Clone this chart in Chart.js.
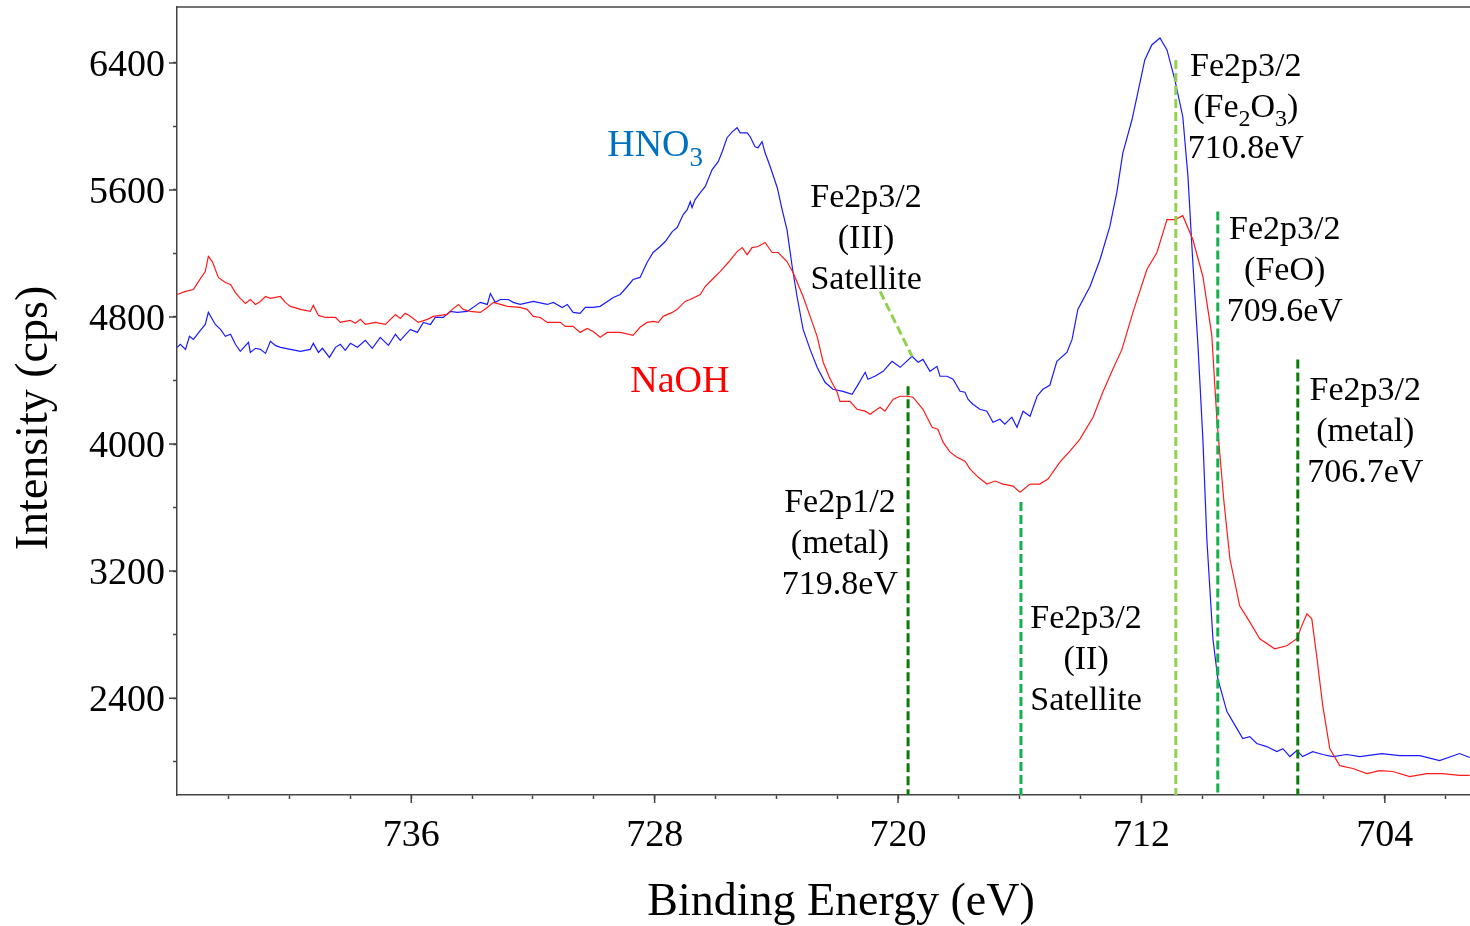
<!DOCTYPE html>
<html lang="en">
<head>
<meta charset="UTF-8">
<title>Fe2p XPS spectra</title>
<script src="https://cdn.jsdelivr.net/npm/chart.js"></script>
<style>
  body { margin: 0; background: #fff; }
  #wrap { width: 1470px; height: 926px; }
</style>
</head>
<body>
<div id="wrap"><canvas id="xps"></canvas></div>
<script>
  // HNO3 treated sample (blue)
  const hno3Energy = [743.69,743.59,743.42,743.29,743.16,742.93,742.77,742.67,742.44,742.27,742.11,741.94,741.78,741.62,741.35,741.29,741.12,740.96,740.79,740.63,740.47,740.30,739.97,739.64,739.32,739.22,739.05,738.92,738.69,738.49,738.33,738.17,738.00,737.77,737.51,737.28,737.02,736.75,736.52,736.36,736.03,735.80,735.60,735.37,735.21,734.95,734.72,734.49,734.16,733.73,733.50,733.40,733.24,733.07,732.81,732.65,732.42,731.99,731.53,731.33,731.04,730.87,730.68,730.45,730.28,730.02,729.79,729.36,729.13,728.90,728.71,728.48,728.25,728.05,727.82,727.65,727.42,727.26,727.06,726.93,726.83,726.77,726.67,726.50,726.34,726.11,725.91,725.78,725.62,725.45,725.29,725.19,724.96,724.86,724.70,724.60,724.47,724.37,724.20,723.97,723.81,723.65,723.48,723.32,723.12,722.89,722.66,722.40,722.14,721.81,721.51,721.31,721.08,720.99,720.76,720.49,720.20,719.93,719.54,719.34,719.18,718.95,718.72,718.62,718.39,718.19,717.96,717.80,717.70,717.54,717.31,717.08,716.88,716.65,716.49,716.26,716.09,715.89,715.66,715.43,715.24,715.01,714.78,714.45,714.28,714.09,713.69,713.36,713.04,712.81,712.61,712.31,712.12,711.89,711.66,711.39,711.16,710.90,710.64,710.47,710.31,710.14,709.98,709.85,709.65,709.49,709.19,708.86,708.67,708.44,708.21,707.88,707.55,707.35,707.12,706.89,706.70,706.37,706.04,705.71,705.25,704.82,704.10,703.51,702.85,702.20,701.54,701.21];
  const hno3Counts = [4609,4628,4596,4678,4659,4716,4753,4829,4753,4722,4678,4691,4628,4584,4640,4577,4603,4596,4571,4647,4621,4609,4596,4584,4596,4634,4577,4603,4546,4609,4628,4590,4634,4609,4653,4603,4672,4621,4691,4653,4722,4703,4766,4753,4797,4797,4835,4829,4835,4892,4879,4948,4892,4910,4910,4892,4879,4898,4879,4892,4860,4879,4829,4823,4860,4860,4867,4923,4942,4992,5036,5049,5143,5206,5244,5275,5338,5363,5445,5476,5526,5489,5539,5583,5621,5728,5778,5841,5929,5966,5992,5960,5960,5935,5872,5866,5904,5834,5746,5614,5476,5350,5118,4929,4722,4596,4483,4389,4345,4332,4313,4376,4452,4408,4427,4458,4521,4483,4552,4515,4533,4458,4489,4427,4427,4408,4332,4326,4282,4251,4219,4207,4137,4156,4125,4169,4106,4207,4175,4301,4345,4370,4521,4577,4659,4848,4992,5162,5369,5583,5834,6042,6211,6419,6513,6557,6482,6293,6061,5684,5143,4615,4031,3402,2774,2522,2315,2208,2145,2158,2114,2095,2063,2082,2032,2070,2032,2063,2045,2032,2045,2032,2051,2038,2038,2007,2051,2026];

  // NaOH treated sample (red)
  const naohEnergy = [743.69,743.42,743.16,742.93,742.77,742.67,742.54,742.34,742.11,741.94,741.78,741.62,741.45,741.29,741.12,740.96,740.79,740.63,740.30,740.14,739.97,739.64,739.32,739.22,739.05,738.82,738.49,738.33,738.17,738.00,737.84,737.67,737.51,737.18,736.85,736.52,736.36,736.20,736.03,735.77,735.47,735.28,735.05,734.82,734.65,734.45,734.29,734.06,733.73,733.50,733.30,733.07,732.84,732.42,732.19,731.99,731.76,731.53,731.10,730.94,730.68,730.45,730.22,730.02,729.79,729.56,729.13,728.71,728.48,728.25,728.05,727.88,727.72,727.42,727.26,727.00,726.83,726.50,726.34,726.11,725.85,725.58,725.29,725.12,724.96,724.80,724.60,724.37,724.14,723.94,723.65,723.45,723.12,722.89,722.66,722.46,722.23,722.00,721.91,721.58,721.35,721.08,720.92,720.59,720.43,720.16,719.93,719.70,719.51,719.18,718.88,718.69,718.52,718.29,718.06,717.80,717.63,717.37,717.08,716.81,716.55,716.22,715.99,715.66,715.34,715.07,714.68,714.35,714.02,713.59,713.27,712.94,712.64,712.28,711.82,711.49,711.16,710.90,710.64,710.31,709.98,709.69,709.52,709.29,709.09,708.77,708.44,708.11,707.62,707.22,706.89,706.73,706.56,706.40,706.24,706.04,705.81,705.48,705.05,704.59,704.17,703.74,703.18,702.62,702.10,701.54,701.21];
  const naohCounts = [4942,4961,4973,5042,5086,5181,5149,5049,5017,5005,4954,4917,4885,4910,4879,4898,4929,4917,4929,4892,4867,4848,4835,4873,4810,4797,4797,4766,4772,4779,4760,4785,4753,4766,4753,4816,4791,4823,4804,4766,4785,4804,4810,4816,4848,4879,4848,4835,4829,4860,4892,4879,4867,4860,4848,4804,4797,4766,4766,4741,4741,4703,4728,4709,4672,4703,4703,4684,4735,4766,4772,4766,4804,4829,4848,4898,4910,4942,4992,5036,5086,5143,5212,5237,5193,5237,5244,5269,5206,5206,5149,5080,4929,4804,4678,4515,4408,4326,4269,4269,4219,4207,4188,4232,4207,4282,4301,4301,4295,4219,4106,4093,4012,3949,3917,3892,3842,3792,3748,3767,3748,3735,3697,3748,3748,3779,3886,3955,4031,4169,4326,4471,4596,4829,5099,5206,5413,5413,5438,5288,5055,4691,4156,3641,3276,2981,2880,2774,2711,2730,2774,2855,2931,2899,2667,2353,2082,1975,1957,1925,1944,1938,1906,1925,1925,1913,1913];

  // peak position markers (dashed verticals): energy and top of each line
  const markerEnergy = [719.67, 715.96, 710.87, 709.49, 706.86];
  const markerTop = [4364, 3635, 6419, 5464, 4533];
  const markerColor = ['#0a7a0a', '#13b04c', '#92d050', '#13b04c', '#0a7a0a'];
  // leader from the (III) satellite label
  const leaderEnergy = [720.59, 719.54];
  const leaderCounts = [4961, 4552];

  const xMin = 701.2, xMax = 743.7, yMin = 1790, yMax = 6752;
  const serif = '"Liberation Serif", "Times New Roman", serif';

  // peak labels: anchor = centre x / first baseline
  const peakLabels = [
    { text: ['Fe2p3/2', '(III)', 'Satellite'], x: 721.05, y: 5495 },
    { text: ['Fe2p1/2', '(metal)', '719.8eV'], x: 721.91, y: 3572 },
    { text: ['Fe2p3/2', '(II)', 'Satellite'], x: 713.82, y: 2843 },
    { text: ['Fe2p3/2', '(Fe{2}O{3})', '710.8eV'], x: 708.57, y: 6318 },
    { text: ['Fe2p3/2', '(FeO)', '709.6eV'], x: 707.29, y: 5294 },
    { text: ['Fe2p3/2', '(metal)', '706.7eV'], x: 704.64, y: 4276 }
  ];
  const seriesLabels = [
    { text: 'HNO{3}', x: 729.56, y: 5816, color: '#0070c0' },
    { text: 'NaOH', x: 728.80, y: 4326, color: '#ff0000' }
  ];

  function zip(xs, ys) { return xs.map((v, i) => ({ x: v, y: ys[i] })); }

  // text with {n} subscripts
  function drawRich(ctx, text, px, base, size, align) {
    const parts = text.split(/\{(\d)\}/);
    const sub = Math.round(size * 0.72);
    let w = 0;
    parts.forEach((p, i) => { ctx.font = (i % 2 ? sub : size) + 'px ' + serif; w += ctx.measureText(p).width; });
    let cx = align === 'left' ? px : px - w / 2;
    ctx.textAlign = 'left';
    ctx.textBaseline = 'alphabetic';
    parts.forEach((p, i) => {
      ctx.font = (i % 2 ? sub : size) + 'px ' + serif;
      ctx.fillText(p, cx, base + (i % 2 ? size * 0.28 : 0));
      cx += ctx.measureText(p).width;
    });
  }

  const decor = {
    id: 'decor',
    afterDraw(chart) {
      const { ctx, chartArea: a, scales: { x, y } } = chart;
      ctx.save();
      ctx.strokeStyle = '#444';
      ctx.lineWidth = 1.5;
      ctx.beginPath();
      ctx.moveTo(a.left, a.top);
      ctx.lineTo(a.right, a.top);
      y.ticks.forEach(t => {
        if (t.value % 800 === 0) {
          const py = y.getPixelForValue(t.value);
          ctx.moveTo(a.left - 8, py); ctx.lineTo(a.left, py);
        }
      });
      x.ticks.forEach(t => {
        if (t.value % 8 === 0) {
          const px = x.getPixelForValue(t.value);
          ctx.moveTo(px, a.bottom); ctx.lineTo(px, a.bottom + 8);
        }
      });
      ctx.stroke();

      ctx.fillStyle = '#000';
      peakLabels.forEach(l => {
        const px = x.getPixelForValue(l.x);
        const py = y.getPixelForValue(l.y);
        l.text.forEach((t, i) => drawRich(ctx, t, px, py + i * 41, 34, 'center'));
      });
      seriesLabels.forEach(l => {
        ctx.fillStyle = l.color;
        drawRich(ctx, l.text, x.getPixelForValue(l.x), y.getPixelForValue(l.y), 38, 'left');
      });

      // axis titles
      ctx.fillStyle = '#000';
      ctx.font = '46px ' + serif;
      ctx.textAlign = 'center';
      ctx.textBaseline = 'alphabetic';
      ctx.fillText('Binding Energy (eV)', 841, 915);
      ctx.translate(47, 418);
      ctx.rotate(-Math.PI / 2);
      ctx.fillText('Intensity (cps)', 0, 0);
      ctx.restore();
    }
  };

  const datasets = [
    { data: zip(hno3Energy, hno3Counts), borderColor: '#1a1aff', borderWidth: 1.2, order: 2 },
    { data: zip(naohEnergy, naohCounts), borderColor: '#ff1a1a', borderWidth: 1.2, order: 1 }
  ];
  markerEnergy.forEach((e, i) => {
    datasets.push({
      data: [{ x: e, y: markerTop[i] }, { x: e, y: yMin }],
      borderColor: markerColor[i], borderWidth: 3, borderDash: [9, 4], order: 0
    });
  });
  datasets.push({
    data: zip(leaderEnergy, leaderCounts),
    borderColor: '#92d050', borderWidth: 3, borderDash: [9, 4], order: 0
  });

  new Chart(document.getElementById('xps'), {
    type: 'line',
    data: { datasets },
    options: {
      responsive: true,
      maintainAspectRatio: false,
      animation: false,
      devicePixelRatio: 1,
      layout: { padding: { top: 7, right: 0, left: 0, bottom: 0 } },
      elements: { point: { radius: 0 }, line: { tension: 0, fill: false } },
      plugins: { legend: { display: false }, tooltip: { enabled: false } },
      scales: {
        x: {
          type: 'linear', reverse: true, min: xMin, max: xMax,
          grid: { drawOnChartArea: false, tickLength: 4, tickColor: '#444', tickWidth: 1.5 },
          border: { color: '#444', width: 1.5 },
          ticks: {
            stepSize: 2, autoSkip: false, maxRotation: 0, includeBounds: false, padding: 14,
            color: '#000', font: { family: serif, size: 38 },
            callback: v => (v % 8 === 0 ? String(v) : '')
          },
          afterFit(s) { s.height = 131; s.paddingLeft = 0; s.paddingRight = 0; }
        },
        y: {
          min: yMin, max: yMax,
          grid: { drawOnChartArea: false, tickLength: 4, tickColor: '#444', tickWidth: 1.5 },
          border: { color: '#444', width: 1.5 },
          ticks: {
            stepSize: 400, includeBounds: false, padding: 8, labelOffset: 3,
            color: '#000', font: { family: serif, size: 38 },
            callback: v => (v % 800 === 0 ? String(v) : '')
          },
          afterFit(s) { s.width = 177; s.paddingTop = 0; s.paddingBottom = 0; }
        }
      }
    },
    plugins: [decor]
  });
</script>
</body>
</html>
